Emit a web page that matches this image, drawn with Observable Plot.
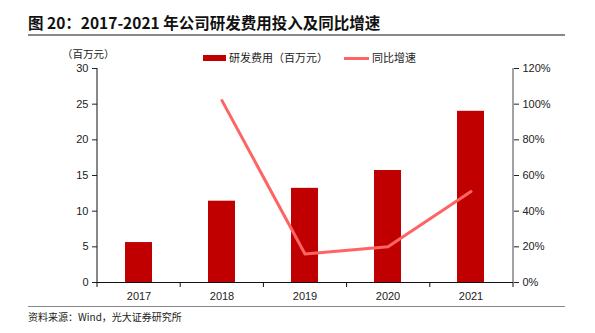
<!DOCTYPE html>
<html><head><meta charset="utf-8">
<script src="https://cdn.jsdelivr.net/npm/d3@7"></script>
<script src="https://cdn.jsdelivr.net/npm/@observablehq/plot@0.6"></script>
<style>
body{margin:0;background:#fff;font-family:"Liberation Sans",Arial,sans-serif;}
#wrap{position:relative;width:595px;height:333px;}
.abs{position:absolute;white-space:nowrap;}
</style></head><body>
<div id="wrap">
<div class="abs" style="left:28px;top:11px;font-family:'Noto Sans CJK SC';font-weight:bold;font-size:15.5px;color:#111;">图 20：2017-2021 年公司研发费用投入及同比增速</div>
<div class="abs" style="left:28px;top:34px;width:537px;height:2px;background:#888;"></div>
<div class="abs" style="left:62px;top:46px;font-family:'Noto Sans CJK SC';font-size:10.5px;color:#222;">（百万元）</div>
<div class="abs" style="left:203px;top:55px;width:23px;height:6px;background:#C00000;"></div>
<div class="abs" style="left:229px;top:49px;font-family:'Noto Sans CJK SC';font-size:11px;color:#222;">研发费用（百万元）</div>
<div class="abs" style="left:344px;top:57px;width:25px;height:3px;background:#FF6464;"></div>
<div class="abs" style="left:372px;top:49px;font-family:'Noto Sans CJK SC';font-size:11px;color:#222;">同比增速</div>
<div class="abs" style="left:28px;top:306px;width:537px;height:1px;background:#888;"></div>
<div class="abs" style="left:28px;top:309px;font-family:'Noto Sans CJK SC';font-size:10px;color:#222;">资料来源：Wind，光大证券研究所</div>
<div id="chart" class="abs" style="left:0;top:0;"></div>
</div>
<script>
const years = ["2017","2018","2019","2020","2021"];
const rd = [5.6, 11.4, 13.2, 15.7, 24.0];
const growthYears = ["2018","2019","2020","2021"];
const growth = [1.02, 0.16, 0.20, 0.51];
const leftTicks = [0,5,10,15,20,25,30];
const rightTicks = [0,0.2,0.4,0.6,0.8,1.0,1.2];

const bars = years.map((y,i)=>({year:y, v:rd[i]}));
const line = growthYears.map((y,i)=>({year:y, g:growth[i]}));
const scaleR = 30/1.2;

const chart = Plot.plot({
  width:595, height:333,
  marginLeft:97, marginRight:82, marginTop:68, marginBottom:51,
  style:{fontFamily:"'Liberation Sans',Arial,sans-serif", fontSize:"11px", color:"#222", background:"transparent"},
  x:{domain:years, paddingInner:0.67, paddingOuter:0.335, label:null},
  y:{domain:[0,30], label:null},
  marks:[
    Plot.barY(bars,{x:"year", y:"v", fill:"#C00000"}),
    Plot.axisY({anchor:"left", ticks:leftTicks, tickSize:5, tickPadding:4, label:null, fontSize:11}),
    Plot.axisY({anchor:"right", ticks:rightTicks.map(t=>t*scaleR), tickSize:5, tickPadding:4, tickFormat:d=>Math.round(d/scaleR*100)+"%", label:null, fontSize:11}),
    Plot.axisX({anchor:"bottom", tickSize:0, tickPadding:10, label:null, fontSize:11}),
    Plot.line(line,{x:"year", y:d=>d.g*scaleR, stroke:"#FF6464", strokeWidth:3}),
    Plot.ruleY([0],{stroke:"#111"})
  ]
});
document.getElementById("chart").appendChild(chart);

const svg = d3.select(chart);
const ys = chart.scale("y");
const x0 = 97, x1 = 513;
const yTop = ys.apply(30), yBot = ys.apply(0);
svg.append("line").attr("x1",x0).attr("x2",x0).attr("y1",yTop).attr("y2",yBot).attr("stroke","#111");
svg.append("line").attr("x1",x1).attr("x2",x1).attr("y1",yTop).attr("y2",yBot).attr("stroke","#444");
const step = (x1-x0)/years.length;
for(let i=0;i<=years.length;i++){
  svg.append("line").attr("x1",x0+i*step).attr("x2",x0+i*step).attr("y1",yBot).attr("y2",yBot+5).attr("stroke","#111");
}
</script>
</body></html>
